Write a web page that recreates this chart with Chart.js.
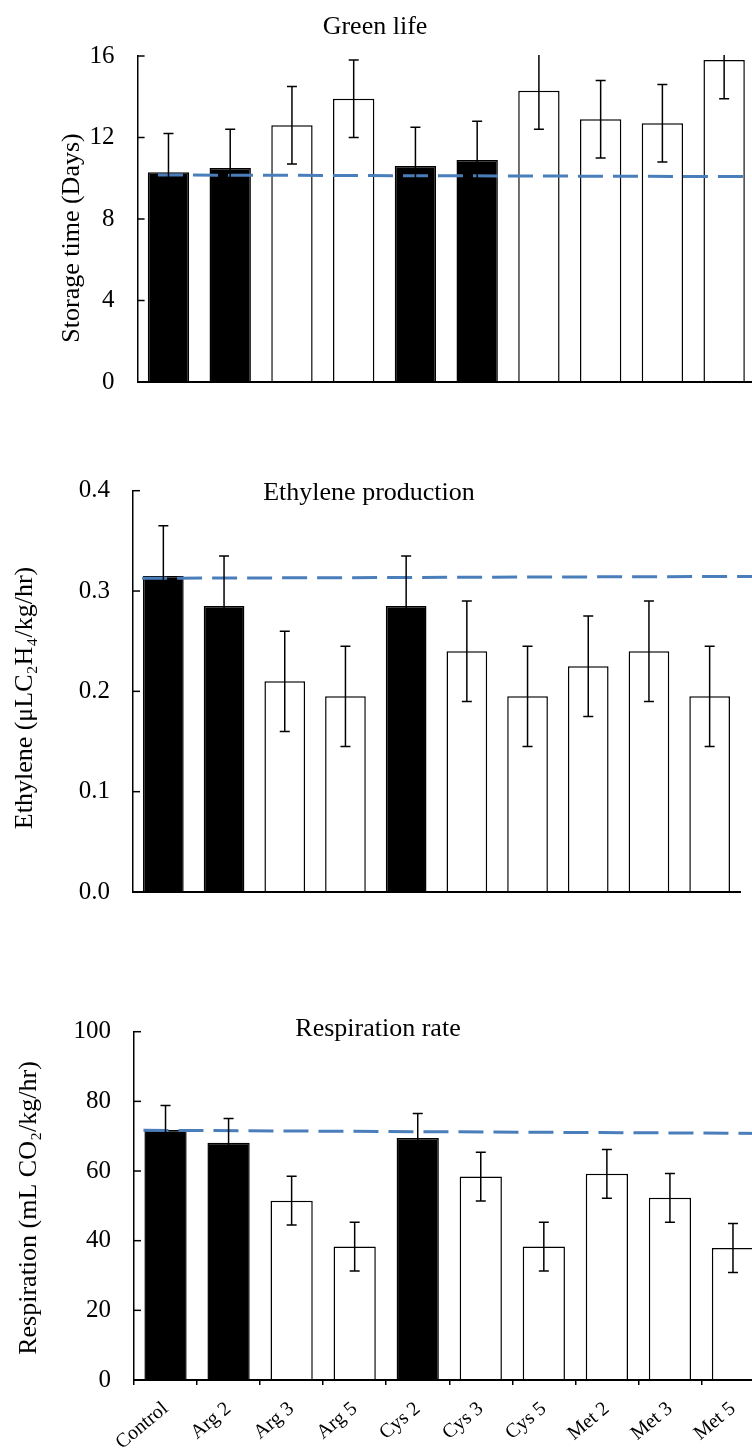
<!DOCTYPE html>
<html>
<head>
<meta charset="utf-8">
<script src="https://cdn.jsdelivr.net/npm/chart.js@4/dist/chart.umd.min.js"></script>
<style>
  html, body { margin: 0; padding: 0; background: #fff; width: 752px; height: 1450px; overflow: hidden; }
  .box { position: absolute; left: 0; }
</style>
</head>
<body>
<div class="box" style="top:0;width:760px;height:420px"><canvas id="green"></canvas></div>
<div class="box" style="top:440px;width:752px;height:490px"><canvas id="ethylene"></canvas></div>
<div class="box" style="top:940px;width:770px;height:510px"><canvas id="resp"></canvas></div>
<script>
// treatments
var labels = ['Control', 'Arg 2', 'Arg 3', 'Arg 5', 'Cys 2', 'Cys 3', 'Cys 5', 'Met 2', 'Met 3', 'Met 5'];

// Green life (days)
var greenLife = [10.3, 10.5, 12.6, 13.9, 10.6, 10.9, 14.3, 12.9, 12.7, 15.8];
var greenLifeErr = [1.9, 1.9, 1.9, 1.9, 1.9, 1.9, 1.9, 1.9, 1.9, 1.9];
var greenLifeRef = [{ x: -0.17, y: 10.16 }, { x: 9.5, y: 10.08 }];
var greenLifeTicks = [0, 4, 8, 12, 16];

// Ethylene production
var ethylene = [0.315, 0.285, 0.21, 0.195, 0.285, 0.24, 0.195, 0.225, 0.24, 0.195];
var ethyleneErr = [0.05, 0.05, 0.05, 0.05, 0.05, 0.05, 0.05, 0.05, 0.05, 0.05];
var ethyleneRef = [{ x: -0.35, y: 0.3127 }, { x: 9.7, y: 0.3146 }];
var ethyleneTicks = [0, 0.1, 0.2, 0.3, 0.4];

// Respiration rate
var respiration = [71.8, 68.1, 51.5, 38.3, 69.5, 58.4, 38.3, 59.2, 52.3, 37.9];
var respirationErr = [7, 7, 7, 7, 7, 7, 7, 7, 7, 7];
var respirationRef = [{ x: -0.35, y: 71.7 }, { x: 9.5, y: 70.8 }];
var respirationTicks = [0, 20, 40, 60, 80, 100];

var K = '#000', W = '#fff';
var greenFill = [K, K, W, W, K, K, W, W, W, W];
var otherFill = [K, K, W, W, K, W, W, W, W, W];

var FONT = '"Liberation Serif", "DejaVu Serif", serif';
Chart.defaults.font.family = FONT;
Chart.defaults.color = '#000';

// error bars on the bar dataset
var errorBars = {
  id: 'errorBars',
  afterDatasetsDraw: function (chart, args, opts) {
    var ctx = chart.ctx, y = chart.scales.y, a = chart.chartArea;
    var meta = chart.getDatasetMeta(1);
    var vals = chart.data.datasets[1].data;
    ctx.save();
    ctx.beginPath();
    ctx.rect(a.left, a.top - 1, a.right - a.left, a.bottom - a.top + 1);
    ctx.clip();
    ctx.strokeStyle = '#000';
    ctx.lineWidth = 1.5;
    meta.data.forEach(function (bar, i) {
      var top = y.getPixelForValue(vals[i] + opts.err[i]);
      var bot = y.getPixelForValue(vals[i] - opts.err[i]);
      ctx.beginPath();
      ctx.moveTo(bar.x, top); ctx.lineTo(bar.x, bot);
      ctx.moveTo(bar.x - 5, top); ctx.lineTo(bar.x + 5, top);
      ctx.moveTo(bar.x - 5, bot); ctx.lineTo(bar.x + 5, bot);
      ctx.stroke();
    });
    ctx.restore();
  }
};

// tick marks pointing into the plot + titles
var panelText = {
  id: 'panelText',
  afterDraw: function (chart, args, o) {
    var ctx = chart.ctx, y = chart.scales.y, a = chart.chartArea;
    ctx.save();
    ctx.strokeStyle = '#000';
    ctx.lineWidth = 1.5;
    y.ticks.forEach(function (t) {
      var py = y.getPixelForValue(t.value);
      ctx.beginPath();
      ctx.moveTo(a.left, py); ctx.lineTo(a.left + 7, py);
      ctx.stroke();
    });
    ctx.fillStyle = '#000';
    ctx.font = '26px ' + FONT;
    ctx.textAlign = 'center';
    ctx.textBaseline = 'middle';
    ctx.fillText(o.title, o.tx, o.ty);
    ctx.translate(o.yx, o.yy);
    ctx.rotate(-Math.PI / 2);
    ctx.fillText(o.yTitle, 0, 0);
    ctx.restore();
  }
};

function makeChart(id, cfg) {
  var ticksArr = cfg.ticks;
  return new Chart(document.getElementById(id), {
    type: 'bar',
    data: {
      labels: labels,
      datasets: [
        {
          type: 'line', data: cfg.ref, xAxisID: 'xl', order: 0, clip: false,
          borderColor: '#4a7ebb', borderWidth: 3, borderDash: [25, 10],
          pointRadius: 0, fill: false
        },
        {
          data: cfg.values, order: 1, grouped: false,
          backgroundColor: cfg.fill, borderColor: '#000', borderWidth: 1.5,
          barPercentage: 0.67, categoryPercentage: 1
        }
      ]
    },
    options: {
      responsive: true,
      maintainAspectRatio: false,
      animation: false,
      layout: { padding: { top: cfg.padTop, right: cfg.padRight, left: 0, bottom: 0 } },
      plugins: {
        legend: { display: false },
        tooltip: { enabled: false },
        errorBars: { err: cfg.err },
        panelText: cfg.text
      },
      scales: {
        x: {
          grid: cfg.xTicks
            ? { display: true, drawOnChartArea: false, drawTicks: true, tickLength: 5, color: '#000', lineWidth: 1.5 }
            : { display: false },
          border: { display: true, color: '#000', width: 2, z: 1 },
          ticks: cfg.xTicks
            ? { display: true, autoSkip: false, minRotation: 40, maxRotation: 40, padding: 12, font: { size: 20 }, color: '#000' }
            : { display: false },
          afterFit: function (s) { s.height = cfg.xHeight; }
        },
        xl: { type: 'linear', display: false, offset: false, min: -0.5, max: 9.5, grid: { offset: false } },
        y: {
          min: ticksArr[0],
          max: ticksArr[ticksArr.length - 1],
          grid: { display: false, drawTicks: false },
          border: { display: true, color: '#000', width: 1.5 },
          ticks: {
            padding: 23,
            font: { size: 25 },
            color: '#000',
            callback: cfg.fmt
          },
          afterBuildTicks: function (s) { s.ticks = ticksArr.map(function (v) { return { value: v }; }); },
          afterFit: function (s) { s.width = cfg.yWidth; }
        }
      }
    },
    plugins: [errorBars, panelText]
  });
}

makeChart('green', {
  values: greenLife, err: greenLifeErr, ref: greenLifeRef, ticks: greenLifeTicks, fill: greenFill,
  padTop: 56, padRight: 5, xHeight: 37, yWidth: 137.6, xTicks: false,
  fmt: function (v) { return v; },
  text: { title: 'Green life', tx: 375, ty: 27, yTitle: 'Storage time (Days)', yx: 72, yy: 238 }
});

makeChart('ethylene', {
  values: ethylene, err: ethyleneErr, ref: ethyleneRef, ticks: ethyleneTicks, fill: otherFill,
  padTop: 50.7, padRight: 12, xHeight: 20.3, yWidth: 133, xTicks: false,
  fmt: function (v) { return Number(v).toFixed(1); },
  text: { title: 'Ethylene production', tx: 369, ty: 53, yTitle: 'Ethylene (μLC₂H₄/kg/hr)', yx: 25, yy: 258 }
});

makeChart('resp', {
  values: respiration, err: respirationErr, ref: respirationRef, ticks: respirationTicks, fill: otherFill,
  padTop: 91.7, padRight: 5.5, xHeight: 70, yWidth: 134, xTicks: true,
  fmt: function (v) { return v; },
  text: { title: 'Respiration rate', tx: 378, ty: 89, yTitle: 'Respiration (mL CO₂/kg/hr)', yx: 29, yy: 268 }
});
</script>
</body>
</html>
